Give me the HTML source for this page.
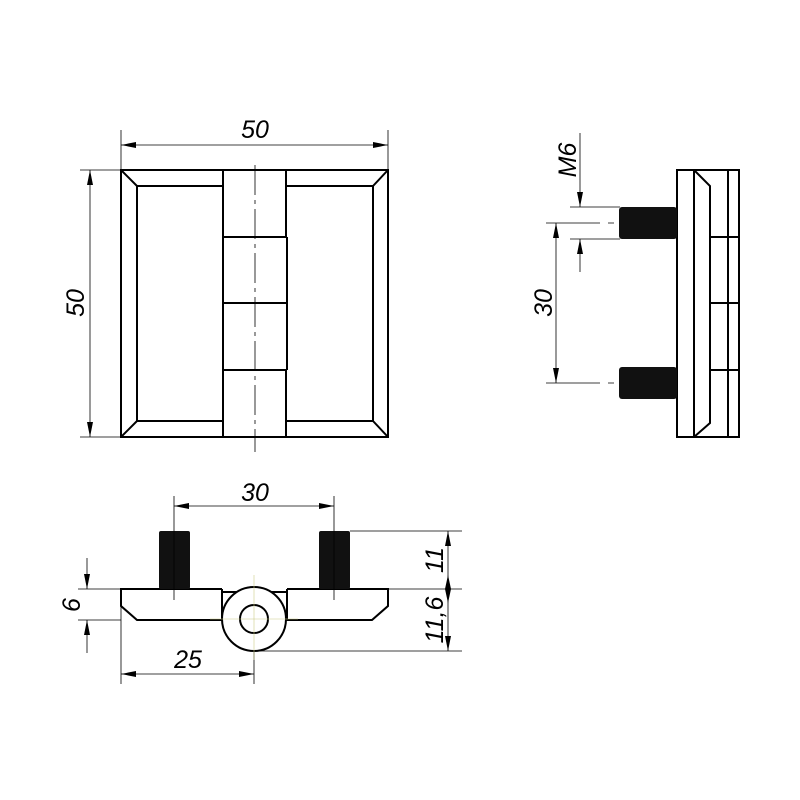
<!DOCTYPE html><html><head><style>body{margin:0;background:#fff}svg{display:block}</style></head><body>
<svg width="800" height="800" viewBox="0 0 800 800" xmlns="http://www.w3.org/2000/svg">
<defs>
<marker id="a" viewBox="0 0 10 4" refX="10" refY="2" markerWidth="16" markerHeight="6" markerUnits="userSpaceOnUse" orient="auto-start-reverse"><path d="M0,0L10,2L0,4z" fill="#000"/></marker>
</defs>
<g fill="none" stroke="#000" stroke-width="2">
<rect x="121" y="170" width="267" height="267"/>
<path d="M137,186H223M137,186V421H223M286,186H373V421H286"/>
<path d="M121,170L137,186M388,170L373,186M121,437L137,421M388,437L373,421"/>
<path d="M223,170V437M286,170V237M287,237V370M286,370V437M223,237H287M223,303H287M223,370H287"/>
<rect x="677" y="170" width="62" height="267"/>
<path d="M694,170V437M728,170V437M694,170L710,186V423L694,437M710,237H739M710,303H739M710,370H739"/>
<path d="M222,589H121V606L137,620H222V589M287,589H388V606L372,620H287V589M222,592H287"/>
<circle cx="254" cy="619" r="32" fill="#fff"/>
<circle cx="254" cy="619" r="14"/>
</g>
<g fill="#111">
<rect x="619" y="207" width="58" height="32" rx="3"/>
<rect x="619" y="367" width="58" height="32" rx="3"/>
<rect x="159" y="531" width="31" height="58" rx="2"/>
<rect x="319" y="531" width="31" height="58" rx="2"/>
</g>
<g stroke="#000" stroke-width="0.8" fill="none">
<path d="M121,130V170M388,130V170M80,170H121M80,437H121"/>
<line x1="121" y1="145" x2="388" y2="145" marker-start="url(#a)" marker-end="url(#a)"/>
<line x1="90" y1="170" x2="90" y2="437" marker-start="url(#a)" marker-end="url(#a)"/>
<path d="M255,165V452" stroke-dasharray="30,5,4,5"/>
<path d="M570,207H620M570,239H620M546,223H600M546,383H600M608,223H614M608,383H614"/>
<line x1="580" y1="133" x2="580" y2="207" marker-end="url(#a)"/>
<line x1="580" y1="272" x2="580" y2="239" marker-end="url(#a)"/>
<line x1="556" y1="223" x2="556" y2="383" marker-start="url(#a)" marker-end="url(#a)"/>
<path d="M174,496V600M334,496V600M350,531H462M388,589H462M254,651H462M78,589H121M78,620H121M121,606V684M254,651V684"/>
<line x1="174" y1="506" x2="334" y2="506" marker-start="url(#a)" marker-end="url(#a)"/>
<line x1="448" y1="531" x2="448" y2="651" marker-start="url(#a)" marker-end="url(#a)"/>
<line x1="87" y1="558" x2="87" y2="589" marker-end="url(#a)"/>
<line x1="87" y1="653" x2="87" y2="620" marker-end="url(#a)"/>
<line x1="121" y1="674" x2="254" y2="674" marker-start="url(#a)" marker-end="url(#a)"/>
<path d="M254,575V660M210,619H298" stroke="#cc8" stroke-width="0.6"/>
</g>
<path d="M448,575L445,589L451,589zM448,603L445,589L451,589z" fill="#000"/>
<g font-family="Liberation Sans, sans-serif" font-size="25" font-style="italic" fill="#000" text-anchor="middle">
<text x="255" y="138">50</text>
<text transform="translate(84,303) rotate(-90)">50</text>
<text transform="translate(576,160) rotate(-90)">M6</text>
<text transform="translate(552,303) rotate(-90)">30</text>
<text x="255" y="501">30</text>
<text x="188" y="668">25</text>
<text transform="translate(80,605) rotate(-90)">6</text>
<text transform="translate(443,560) rotate(-90)">11</text>
<text transform="translate(443,620) rotate(-90)">11,6</text>
</g>
</svg>
</body></html>
